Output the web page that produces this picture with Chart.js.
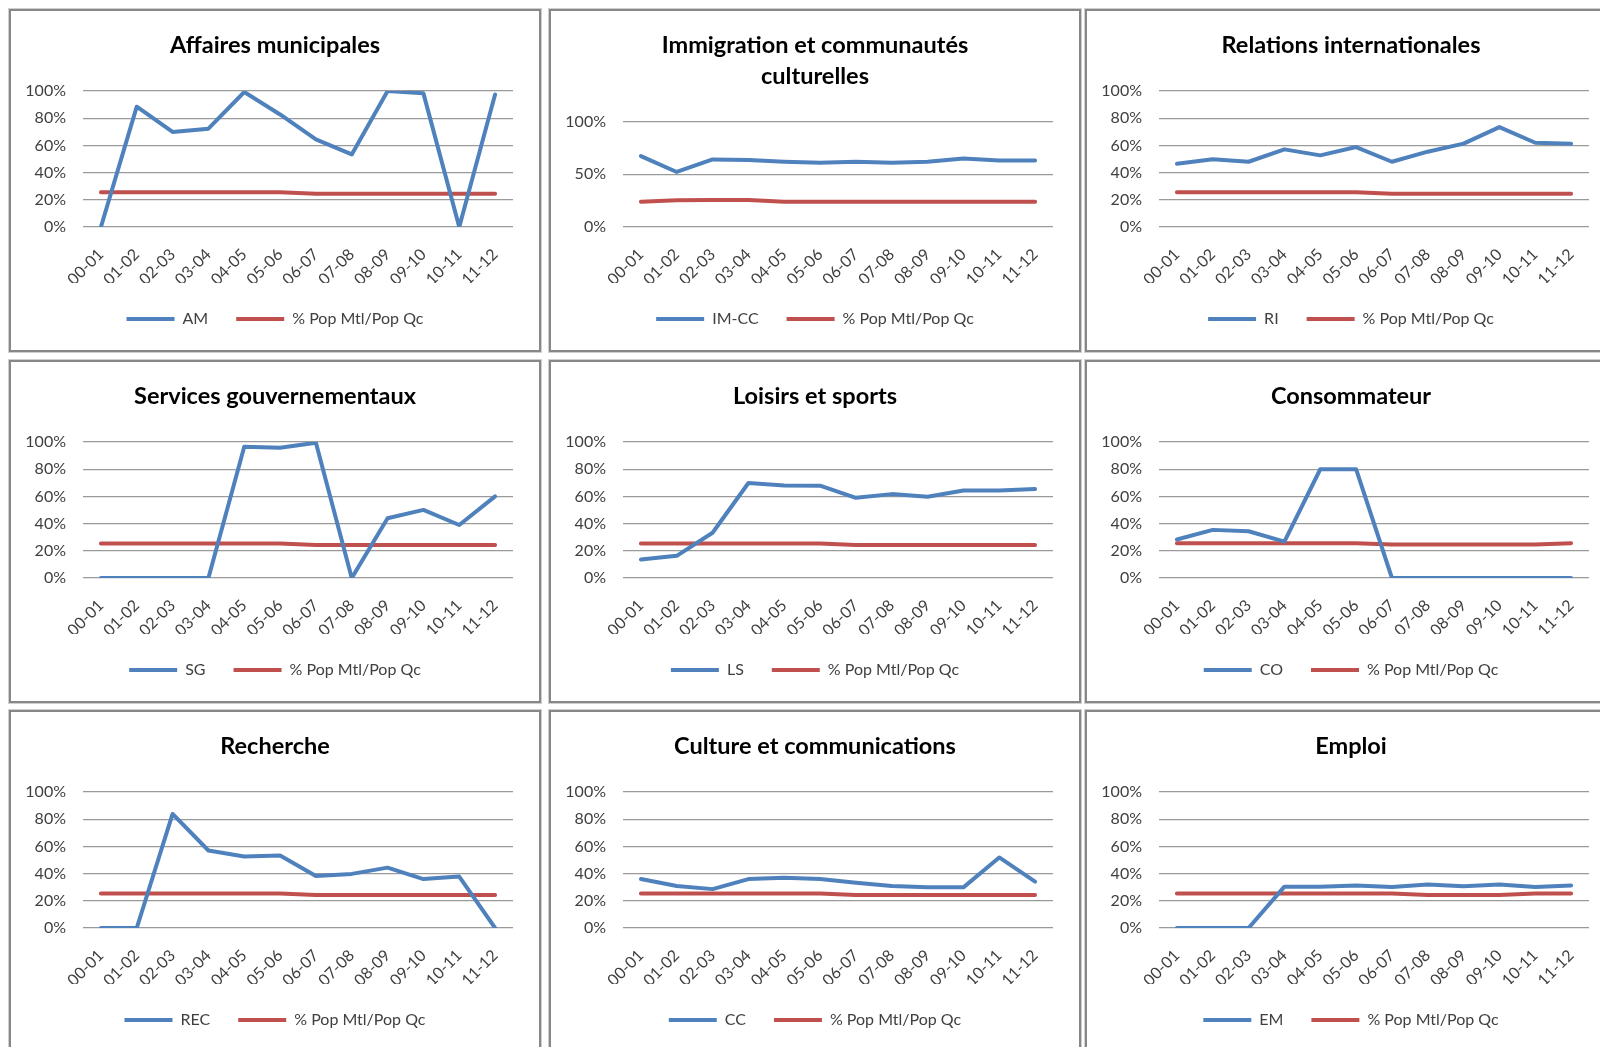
<!DOCTYPE html>
<html lang="fr">
<head>
<meta charset="utf-8">
<title>Part des dépenses à Montréal par ministère</title>
<script src="https://cdn.jsdelivr.net/npm/chart.js@4.4.1/dist/chart.umd.min.js"></script>
<style>
  html, body { margin: 0; padding: 0; background: #fff; }
  body { width: 1600px; height: 1047px; overflow: hidden; position: relative; }
  .panel {
    position: absolute;
    box-sizing: border-box;
    width: 532px;
    height: 343px;
    border: 2px solid #878787;
    box-shadow: 0 0 0 1px #cfcfcf;
    background: #fff;
  }
  .panel canvas { display: block; }
</style>
</head>
<body>
<script>
// Exercices financiers
const periods = ['00-01', '01-02', '02-03', '03-04', '04-05', '05-06',
                 '06-07', '07-08', '08-09', '09-10', '10-11', '11-12'];

// Part de Montréal (%) par ministère
const amValues   = [0, 88.5, 69.9, 72.3, 99.3, 82.8, 64.5, 53.4, 100, 98.3, 0, 97.5];
const imccValues = [67.3, 52.2, 64.1, 63.5, 61.9, 60.9, 61.9, 60.9, 61.9, 65.1, 63.1, 63.1];
const riValues   = [46.6, 49.8, 48.0, 57.1, 52.7, 58.8, 48.0, 55.4, 61.3, 73.5, 62.0, 61.3];
const sgValues   = [0, 0, 0, 0, 96.5, 95.8, 99.5, 0, 43.9, 50.1, 39.0, 60.0];
const lsValues   = [13.6, 16.3, 33.3, 69.9, 68.1, 67.9, 59.0, 61.7, 59.8, 64.4, 64.4, 65.4];
const coValues   = [28.3, 35.4, 34.4, 26.8, 80.0, 80.0, 0, 0, 0, 0, 0, 0];
const recValues  = [0, 0, 83.9, 57.0, 52.6, 53.3, 38.3, 39.8, 44.4, 36.0, 37.8, 0];
const ccValues   = [36.0, 30.9, 28.6, 36.0, 37.0, 36.0, 33.3, 30.9, 29.9, 29.9, 51.9, 34.1];
const emValues   = [0, 0, 0, 30.4, 30.4, 31.3, 30.1, 32.0, 30.8, 32.0, 30.1, 31.3];

// % Pop Mtl/Pop Qc, tel que repris dans chaque graphique
const popAM   = [25.5, 25.5, 25.5, 25.5, 25.5, 25.5, 24.4, 24.4, 24.4, 24.4, 24.4, 24.4];
const popIMCC = [24.0, 25.3, 25.6, 25.6, 24.0, 24.0, 24.0, 24.0, 24.0, 24.0, 24.0, 24.0];
const popRI   = [25.5, 25.5, 25.5, 25.5, 25.5, 25.5, 24.4, 24.4, 24.4, 24.4, 24.4, 24.4];
const popSG   = [25.4, 25.4, 25.4, 25.4, 25.4, 25.4, 24.2, 24.2, 24.2, 24.2, 24.2, 24.2];
const popLS   = [25.4, 25.4, 25.4, 25.4, 25.4, 25.4, 24.2, 24.2, 24.2, 24.2, 24.2, 24.2];
const popCO   = [25.6, 25.6, 25.6, 25.6, 25.6, 25.6, 24.6, 24.6, 24.6, 24.6, 24.6, 25.6];
const popREC  = [25.4, 25.4, 25.4, 25.4, 25.4, 25.4, 24.2, 24.2, 24.2, 24.2, 24.2, 24.2];
const popCC   = [25.4, 25.4, 25.4, 25.4, 25.4, 25.4, 24.2, 24.2, 24.2, 24.2, 24.2, 24.2];
const popEM   = [25.3, 25.3, 25.3, 25.3, 25.3, 25.3, 25.3, 24.3, 24.3, 24.3, 25.3, 25.3];

const popLabel = '% Pop Mtl/Pop Qc';

// Un graphique par ministère, dans l'ordre de la grille
const panels = [
  { title: 'Affaires municipales', code: 'AM', values: amValues, pop: popAM, step: 20 },
  { title: ['Immigration et communautés', 'culturelles'], code: 'IM-CC', values: imccValues, pop: popIMCC, step: 50 },
  { title: 'Relations internationales', code: 'RI', values: riValues, pop: popRI, step: 20 },
  { title: 'Services gouvernementaux', code: 'SG', values: sgValues, pop: popSG, step: 20 },
  { title: 'Loisirs et sports', code: 'LS', values: lsValues, pop: popLS, step: 20 },
  { title: 'Consommateur', code: 'CO', values: coValues, pop: popCO, step: 20 },
  { title: 'Recherche', code: 'REC', values: recValues, pop: popREC, step: 20 },
  { title: 'Culture et communications', code: 'CC', values: ccValues, pop: popCC, step: 20 },
  { title: 'Emploi', code: 'EM', values: emValues, pop: popEM, step: 20 }
];

const BLUE = '#4F81BD';
const RED = '#C0504D';
const GRID = '#9a9a9a';
const TEXT = '#404040';
const FONT = 'Lato, "Open Sans", sans-serif';

const colLeft = [9, 549, 1085];
const rowTop = [9, 360, 710];

function lineDataset(label, data, color) {
  return {
    label: label,
    data: data,
    borderColor: color,
    backgroundColor: color,
    borderWidth: 4,
    borderCapStyle: 'round',
    borderJoinStyle: 'round',
    pointRadius: 0,
    tension: 0
  };
}

function buildChart(canvas, panel) {
  return new Chart(canvas, {
    type: 'line',
    data: {
      labels: periods,
      datasets: [
        lineDataset(panel.code, panel.values, BLUE),
        lineDataset(popLabel, panel.pop, RED)
      ]
    },
    options: {
      responsive: false,
      animation: false,
      events: [],
      layout: { padding: { left: 0, right: 0, top: 0, bottom: 13 } },
      plugins: {
        title: {
          display: true,
          text: panel.title,
          color: '#000',
          font: { family: FONT, size: 23.5, weight: 'bold', lineHeight: 1.3 },
          padding: { top: 19.5, bottom: 30 }
        },
        legend: {
          position: 'bottom',
          labels: {
            usePointStyle: true,
            pointStyle: 'line',
            pointStyleWidth: 48,
            padding: 28,
            color: TEXT,
            font: { family: FONT, size: 16 }
          }
        },
        tooltip: { enabled: false }
      },
      scales: {
        x: {
          offset: true,
          grid: { display: false, drawTicks: false },
          border: { display: false },
          ticks: {
            autoSkip: false,
            maxRotation: 45,
            minRotation: 45,
            padding: 18,
            color: TEXT,
            font: { family: FONT, size: 16 }
          },
          afterFit: scale => { scale.height = 56; }
        },
        y: {
          min: 0,
          max: 100,
          grid: { color: GRID, lineWidth: 1.3, drawTicks: false },
          border: { display: false },
          ticks: {
            stepSize: panel.step,
            padding: 17,
            color: TEXT,
            font: { family: FONT, size: 16 },
            callback: v => v + '%'
          },
          afterFit: scale => { scale.width = 72; }
        },
        // blank margin on the right so title and legend stay centred on the whole box
        gap: {
          position: 'right',
          grid: { display: false, drawTicks: false },
          border: { display: false },
          ticks: { display: false },
          afterFit: scale => { scale.width = 26; }
        }
      }
    }
  });
}

panels.forEach((panel, i) => {
  const box = document.createElement('div');
  box.className = 'panel';
  box.style.left = colLeft[i % 3] + 'px';
  box.style.top = rowTop[Math.floor(i / 3)] + 'px';
  const canvas = document.createElement('canvas');
  canvas.width = 528;
  canvas.height = 339;
  box.appendChild(canvas);
  document.body.appendChild(box);
  buildChart(canvas, panel);
});
</script>
</body>
</html>
